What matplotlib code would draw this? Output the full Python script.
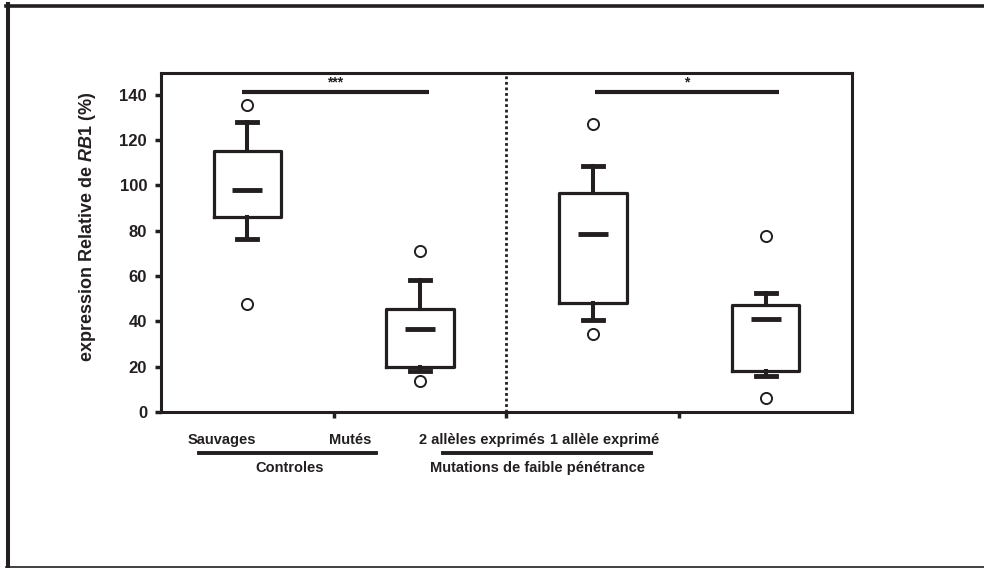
import matplotlib
matplotlib.use("Agg")
import matplotlib.pyplot as plt
import matplotlib.transforms as mtransforms
from matplotlib.lines import Line2D

plt.rcParams['font.family'] = ['Liberation Sans', 'DejaVu Sans']
plt.rcParams['font.weight'] = 'bold'
plt.rcParams['mathtext.fontset'] = 'custom'
plt.rcParams['mathtext.it'] = 'Liberation Sans:italic:bold'
plt.rcParams['mathtext.rm'] = 'Liberation Sans:bold'

ink = '#231f20'

# box statistics
groups = ["Sauvages", "Mutés", "2 allèles exprimés", "1 allèle exprimé"]
positions = [0.5, 1.5, 2.5, 3.5]
whislo = [76.5, 18.2, 40.4, 15.9]
q1 = [85.8, 20.0, 48.3, 18.2]
med = [98.0, 36.8, 78.6, 41.1]
q3 = [115.1, 45.6, 96.8, 47.4]
whishi = [128.0, 58.3, 108.4, 52.3]
fliers = [[135.2, 47.8], [71.2, 13.5], [127.2, 34.4], [77.7, 6.0]]

# label positions under the axis (data x)
label_x = [0.353, 1.094, 1.858, 2.570]
group_names = ["Controles", "Mutations de faible pénétrance"]
group_x = [0.747, 2.177]
group_lines = [(0.22, 1.245), (1.632, 2.836)]

# significance bars
sig_spans = [(0.47, 1.55), (2.51, 3.58)]
sig_y = 141.1
sig_text = ["***", "*"]

fig = plt.figure(figsize=(9.84, 5.68), dpi=100)
ax = fig.add_axes([0.1636, 0.2746, 0.7022, 0.5968])

stats = []
for i in range(len(groups)):
    stats.append(dict(whislo=whislo[i], q1=q1[i], med=med[i], q3=q3[i],
                      whishi=whishi[i], fliers=fliers[i], label=groups[i]))

ax.bxp(stats, positions=positions, widths=0.39, capwidths=0.116,
       boxprops=dict(color=ink, linewidth=2.3),
       whiskerprops=dict(color=ink, linewidth=2.9),
       capprops=dict(color=ink, linewidth=3.5),
       medianprops=dict(linewidth=0),
       flierprops=dict(marker='o', markersize=8, markerfacecolor='white',
                       markeredgecolor=ink, markeredgewidth=1.4))

for p, m in zip(positions, med):
    ax.hlines(m, p - 0.087, p + 0.087, color=ink, linewidth=3.5)

ax.axvline(2, color=ink, linewidth=2, linestyle=(0, (1, 1)))

for (a, b), t in zip(sig_spans, sig_text):
    ax.hlines(sig_y, a, b, color=ink, linewidth=3)
    ax.text((a + b) / 2, sig_y + 1.2, t, ha='center', va='bottom',
            fontsize=10, fontweight='bold', color=ink)

ax.set_xlim(0, 4)
ax.set_ylim(0, 149.5)
ax.set_yticks(range(0, 141, 20))
ax.set_xticks([1, 2, 3])
ax.set_xticklabels([])
ax.tick_params(axis='both', direction='out', length=4, width=2.5,
               colors=ink, labelsize=12)
ax.tick_params(axis='y', pad=6)
for lab in ax.get_yticklabels():
    lab.set_fontweight('bold')
for s in ax.spines.values():
    s.set_linewidth(2.2)
    s.set_color(ink)

ax.set_ylabel(r"expression Relative de $\mathit{RB1}$ (%)", fontsize=13,
              fontweight='bold', color=ink)
ax.yaxis.set_label_coords(-0.091, 0.546)

trans = mtransforms.blended_transform_factory(ax.transData, fig.transFigure)
for x, name in zip(label_x, groups):
    ax.text(x, 0.2254, name, transform=trans, ha='center', va='center',
            fontsize=10.5, fontweight='bold', color=ink, clip_on=False)
for (a, b) in group_lines:
    ax.add_line(Line2D([a, b], [0.2025, 0.2025], transform=trans,
                       color=ink, linewidth=2.8, clip_on=False))
for x, name in zip(group_x, group_names):
    ax.text(x, 0.176, name, transform=trans, ha='center', va='center',
            fontsize=10.5, fontweight='bold', color=ink, clip_on=False)

# outer frame of the figure panel
fig.add_artist(Line2D([0.006, 1.0], [0.9903, 0.9903], color=ink, linewidth=2.6))
fig.add_artist(Line2D([0.0081, 0.0081], [0.0, 0.993], color=ink, linewidth=2.9))
fig.add_artist(Line2D([0.006, 1.0], [0.0015, 0.0015], color=ink, linewidth=1.2))

fig.savefig("out.png", dpi=100)
